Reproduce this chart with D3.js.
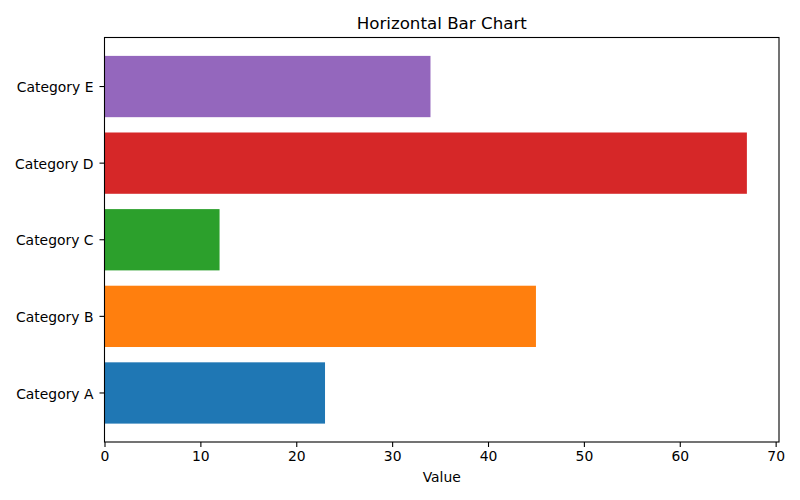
<html>
<head>
<meta charset="utf-8">
<title>Horizontal Bar Chart</title>
<style>
  body { margin: 0; background: #fff; }
  text { font-family: "DejaVu Sans", sans-serif; fill: #000; }
</style>
<script src="https://d3js.org/d3.v7.min.js"></script>
</head>
<body>
<svg width="800" height="500"></svg>
<script>
var categories = ["Category A", "Category B", "Category C", "Category D", "Category E"];
var values = [23, 45, 12, 67, 34];
var colors = ["#1f77b4", "#ff7f0e", "#2ca02c", "#d62728", "#9467bd"];
var xTicks = [0, 10, 20, 30, 40, 50, 60, 70];

var svg = d3.select("svg"),
    margin = {top: 37.5, right: 21, bottom: 58, left: 104.5},
    width = +svg.attr("width") - margin.left - margin.right,
    height = +svg.attr("height") - margin.top - margin.bottom,
    g = svg.append("g").attr("transform", `translate(${margin.left},${margin.top})`);

var data = categories.map((c, i) => ({cat: c, value: values[i], color: colors[i]}));

// matplotlib style: 5% margin on the right of the max value
var x = d3.scaleLinear()
    .domain([0, d3.max(values) * 1.05])
    .range([0, width]);

// first category at the bottom
var y = d3.scaleBand()
    .domain(categories.slice().reverse())
    .range([0, height])
    .paddingInner(0.2)
    .paddingOuter(0.24);

g.selectAll(".bar")
  .data(data)
  .enter()
  .append("rect")
    .attr("class", "bar")
    .attr("x", x(0))
    .attr("y", d => y(d.cat))
    .attr("width", d => x(d.value) - x(0))
    .attr("height", y.bandwidth())
    .attr("fill", d => d.color);

var xAxis = g.append("g")
    .attr("transform", `translate(0,${height})`)
    .call(d3.axisBottom(x).tickValues(xTicks).tickSize(5).tickPadding(4));

var yAxis = g.append("g")
    .call(d3.axisLeft(y).tickSize(5).tickPadding(6));

[xAxis, yAxis].forEach(a => {
  a.select(".domain").remove();
  a.selectAll("line").attr("stroke", "#000").attr("stroke-width", 1.1);
  a.selectAll("text").style("font-size", "13.9px").attr("fill", "#000");
});
yAxis.selectAll("text").attr("dy", "0.4em");

// frame
g.append("rect")
    .attr("width", width)
    .attr("height", height)
    .attr("fill", "none")
    .attr("stroke", "#000")
    .attr("stroke-width", 1.1);

svg.append("text")
    .attr("x", margin.left + width / 2)
    .attr("y", 29)
    .attr("text-anchor", "middle")
    .style("font-size", "16.7px")
    .text("Horizontal Bar Chart");

svg.append("text")
    .attr("x", margin.left + width / 2)
    .attr("y", 482)
    .attr("text-anchor", "middle")
    .style("font-size", "13.9px")
    .text("Value");
</script>
</body>
</html>
